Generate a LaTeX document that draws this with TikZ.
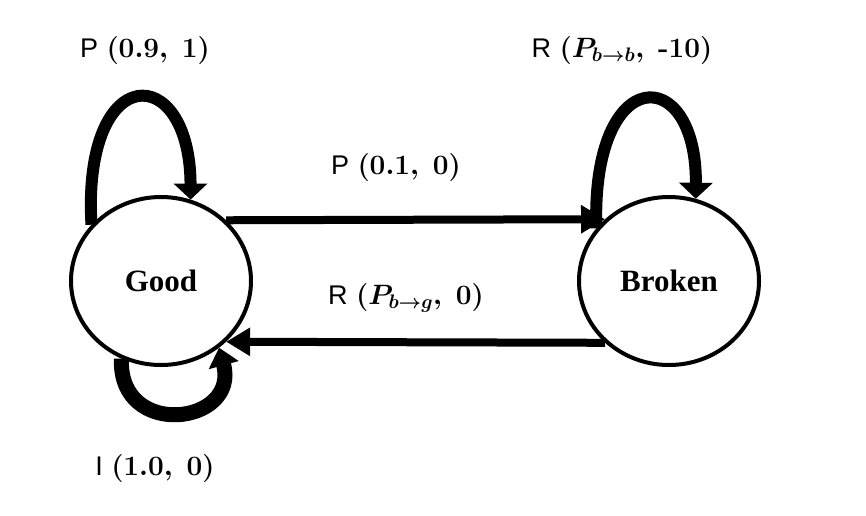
\RequirePackage{fix-cm}
\documentclass[tikz,border=0pt]{standalone}
\usepackage[no-math]{fontspec}
\newfontfamily\letterfont{Liberation Sans}
\newfontfamily\statefont{Liberation Serif}
\newcommand{\lt}[1]{{\letterfont\mdseries\fontsize{27}{30}\selectfont #1}}
\usetikzlibrary{arrows.meta,shapes.geometric}
\begin{document}
\begin{tikzpicture}[x=1pt,y=-1pt,
  state/.style={ellipse,draw,line width=4pt,minimum width=180pt,minimum height=168pt,inner sep=0pt,
    font=\statefont\bfseries\fontsize{31}{34}\selectfont},
  lab/.style={font=\fontsize{28}{32}\selectfont\boldmath,inner sep=0pt},
  edgearrow/.style={line width=8pt,-{Triangle[length=24pt,width=27pt]}},
  looparrow/.style={line width=12pt,-{Triangle[length=16pt,width=33pt]}},
  bottomloop/.style={line width=15pt,-{Triangle[length=18pt,width=30pt]}}]
\useasboundingbox (0,0) rectangle (866,515);
\fill[white] (0,0) rectangle (866,515);
\node[state] (Good) at (161,281) {Good};
\node[state] (Broken) at (669,281) {Broken};
% straight edges
\draw[edgearrow] (Good.43.5) -- (Broken.136.5);
\draw[edgearrow] (Broken.-136.5) -- (Good.-43.5);
% self loops
\draw[looparrow] (Good.141) .. controls (82,60) and (190,60) .. (Good.70);
\draw[looparrow] (Broken.144) .. controls (591,62) and (697,62) .. (Broken.72);
\draw[bottomloop] (Good.-117) .. controls (118,440) and (240,425) .. (Good.-49);
% labels
\node[lab] (lpg) at (145,50) {\lt{P} $(0.9,\ 1)$};
\node[lab] (lrb) at (622,50) {\lt{R} $(P_{b\to b},\ \mbox{\rmfamily\bfseries -}10)$};
\node[lab] (lpb) at (396,167) {\lt{P} $(0.1,\ 0)$};
\node[lab] (lrg) at (406,298) {\lt{R} $(P_{b\to g},\ 0)$};
\node[lab] (lig) at (155,468) {\lt{I} $(1.0,\ 0)$};
\end{tikzpicture}
\end{document}
